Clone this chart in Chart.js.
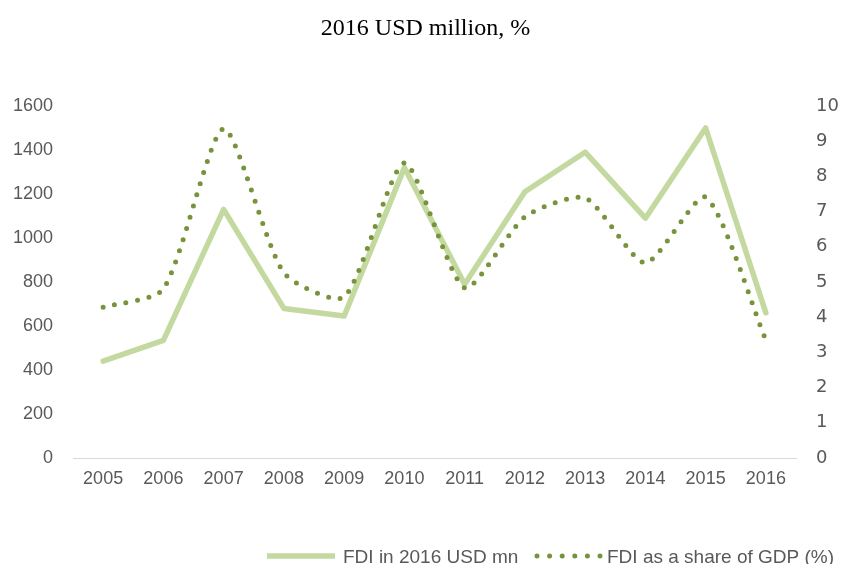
<!DOCTYPE html>
<html>
<head>
<meta charset="utf-8">
<script src="https://cdn.jsdelivr.net/npm/chart.js@4.4.1/dist/chart.umd.min.js"></script>
<style>
html,body{margin:0;padding:0;background:#fff;}
#wrap{width:843px;height:564px;position:relative;}
</style>
</head>
<body>
<div id="wrap"><canvas id="c"></canvas></div>
<script>
const titleText = "2016 USD million, %";
const categories = ["2005","2006","2007","2008","2009","2010","2011","2012","2013","2014","2015","2016"];
const fdiUsd = [440, 535, 1130, 680, 645, 1320, 790, 1210, 1390, 1090, 1500, 660];
const fdiShare = [4.28, 4.8, 9.35, 5.26, 4.57, 8.38, 4.83, 6.85, 7.39, 5.54, 7.41, 3.35];
const seriesNames = ["FDI in 2016 USD mn", "FDI as a share of GDP (%)"];
const leftTicks = {min: 0, max: 1600, step: 200};
const rightTicks = {min: 0, max: 10, step: 1};

const solidColor = "#c4d9a0";
const dotColor = "#77933c";
const tickColor = "#595959";

const overlay = {
  id: "overlay",
  afterDraw(chart) {
    const ctx = chart.ctx;
    ctx.save();
    // title
    ctx.fillStyle = "#000";
    ctx.font = "24px 'Liberation Serif', 'Times New Roman', serif";
    ctx.textAlign = "center";
    ctx.textBaseline = "alphabetic";
    ctx.fillText(titleText, 425.5, 35);
    // legend
    const ly = 556;
    const base = 562.5;
    ctx.font = "19px 'Liberation Sans', Arial, sans-serif";
    ctx.textAlign = "left";
    ctx.fillStyle = tickColor;
    ctx.strokeStyle = solidColor;
    ctx.lineWidth = 5.5;
    ctx.lineCap = "butt";
    ctx.beginPath(); ctx.moveTo(267, ly); ctx.lineTo(335, ly); ctx.stroke();
    ctx.fillText(seriesNames[0], 343, base);
    ctx.strokeStyle = dotColor;
    ctx.lineWidth = 5;
    ctx.lineCap = "round";
    ctx.setLineDash([0, 12.6]);
    ctx.beginPath(); ctx.moveTo(537, ly); ctx.lineTo(600.5, ly); ctx.stroke();
    ctx.setLineDash([]);
    ctx.fillText(seriesNames[1], 607, base);
    ctx.restore();
  }
};

new Chart(document.getElementById("c"), {
  type: "line",
  data: {
    labels: categories,
    datasets: [
      {
        label: seriesNames[0],
        data: fdiUsd,
        yAxisID: "y",
        borderColor: solidColor,
        borderWidth: 5.5,
        borderJoinStyle: "round",
        borderCapStyle: "round",
        tension: 0,
        pointRadius: 0,
        fill: false,
        order: 1
      },
      {
        label: seriesNames[1],
        data: fdiShare,
        yAxisID: "y1",
        borderColor: dotColor,
        borderWidth: 5,
        borderDash: [0, 11.7],
        borderCapStyle: "round",
        tension: 0.22,
        pointRadius: 0,
        fill: false,
        order: 0
      }
    ]
  },
  options: {
    responsive: true,
    maintainAspectRatio: false,
    animation: false,
    layout: {padding: {top: 106, bottom: 0, left: 0, right: 0}},
    plugins: {legend: {display: false}, title: {display: false}, tooltip: {enabled: false}},
    scales: {
      x: {
        type: "category",
        offset: true,
        grid: {display: false, drawTicks: false},
        border: {display: true, color: "#d9d9d9", width: 1},
        ticks: {color: tickColor, padding: 10, maxRotation: 0, autoSkip: false,
          font: {family: "'Liberation Sans', Arial, sans-serif", size: 18}},
        afterFit(s) { s.height = 106; }
      },
      y: {
        position: "left",
        min: leftTicks.min, max: leftTicks.max,
        grid: {display: false, drawTicks: false},
        border: {display: false},
        ticks: {stepSize: leftTicks.step, color: tickColor, padding: 20,
          callback: v => String(v),
          font: {family: "'Liberation Sans', Arial, sans-serif", size: 18}},
        afterFit(s) { s.width = 73; }
      },
      y1: {
        position: "right",
        min: rightTicks.min, max: rightTicks.max,
        grid: {display: false, drawTicks: false},
        border: {display: false},
        ticks: {stepSize: rightTicks.step, color: tickColor, padding: 20,
          callback: v => String(v),
          font: {family: "'DejaVu Sans', sans-serif", size: 18}},
        afterFit(s) { s.width = 47; }
      }
    }
  },
  plugins: [overlay]
});
</script>
</body>
</html>
